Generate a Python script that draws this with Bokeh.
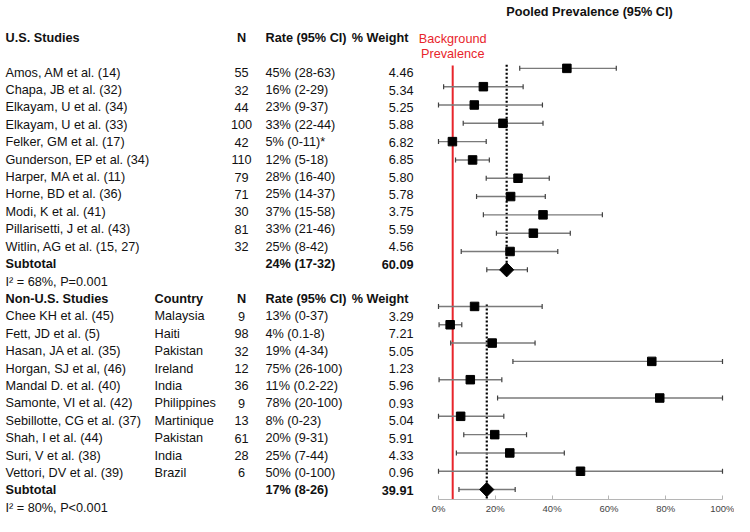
import math
from bokeh.plotting import figure
from bokeh.models import ColumnDataSource, Range1d, FixedTicker, LinearAxis
from bokeh.core.properties import value
from bokeh.embed import file_html
from bokeh.resources import INLINE

# ---------------- data ----------------
us_studies = ["Amos, AM et al. (14)", "Chapa, JB et al. (32)", "Elkayam, U et al. (34)",
              "Elkayam, U et al. (33)", "Felker, GM et al. (17)", "Gunderson, EP et al. (34)",
              "Harper, MA et al. (11)", "Horne, BD et al. (36)", "Modi, K et al. (41)",
              "Pillarisetti, J et al. (43)", "Witlin, AG et al. (15, 27)"]
us_n = [55, 32, 44, 100, 42, 110, 79, 71, 30, 81, 32]
us_rate_labels = ["45% (28-63)", "16% (2-29)", "23% (9-37)", "33% (22-44)", "5% (0-11)*",
                  "12% (5-18)", "28% (16-40)", "25% (14-37)", "37% (15-58)", "33% (21-46)",
                  "25% (8-42)"]
us_weight = [4.46, 5.34, 5.25, 5.88, 6.82, 6.85, 5.80, 5.78, 3.75, 5.59, 4.56]
# plotted point estimates and CIs (%)
us_est = [45.2, 15.8, 12.6, 22.7, 4.9, 12.0, 28.0, 25.4, 36.8, 33.4, 25.2]
us_lo = [28.6, 1.8, 0.0, 8.7, 0.0, 6.0, 16.8, 13.4, 15.8, 20.4, 8.0]
us_hi = [62.6, 29.8, 36.6, 36.8, 16.8, 17.9, 39.0, 37.6, 57.7, 46.4, 42.0]
us_sub_label = "24% (17-32)"
us_sub_weight = 60.09
us_sub_est, us_sub_lo, us_sub_hi = 24.0, 17.0, 31.3
us_het = "I\u00b2 = 68%, P=0.001"

non_studies = ["Chee KH et al. (45)", "Fett, JD et al. (5)", "Hasan, JA et al. (35)",
               "Horgan, SJ et al, (46)", "Mandal D. et al. (40)", "Samonte, VI et al. (42)",
               "Sebillotte, CG et al. (37)", "Shah, I et al. (44)", "Suri, V et al. (38)",
               "Vettori, DV et al. (39)"]
non_country = ["Malaysia", "Haiti", "Pakistan", "Ireland", "India", "Philippines",
               "Martinique", "Pakistan", "India", "Brazil"]
non_n = [9, 98, 32, 12, 36, 9, 13, 61, 28, 6]
non_rate_labels = ["13% (0-37)", "4% (0.1-8)", "19% (4-34)", "75% (26-100)", "11% (0.2-22)",
                   "78% (20-100)", "8% (0-23)", "20% (9-31)", "25% (7-44)", "50% (0-100)"]
non_weight = [3.29, 7.21, 5.05, 1.23, 5.96, 0.93, 5.04, 5.91, 4.33, 0.96]
non_est = [12.7, 4.1, 18.9, 75.1, 11.2, 77.9, 7.8, 19.8, 25.1, 50.0]
non_lo = [0.0, 0.2, 4.3, 26.2, 0.2, 20.8, 0.0, 8.9, 6.3, 0.0]
non_hi = [36.5, 8.2, 34.0, 100.0, 22.3, 100.0, 23.0, 31.0, 44.3, 100.0]
non_sub_label = "17% (8-26)"
non_sub_weight = 39.91
non_sub_est, non_sub_lo, non_sub_hi = 17.0, 7.2, 27.0
non_het = "I\u00b2 = 80%, P<0.001"

background_prevalence = 5.0
tick_values = [0, 20, 40, 60, 80, 100]
tick_labels = ["0%", "20%", "40%", "60%", "80%", "100%"]

# ---------------- styles ----------------
FONT = "Liberation Sans"
FS = "12.7px"
TXT = "#111111"
RED = "#e8252b"
GREY = "#7a7a7a"

W, H = 734, 516
BOTTOM = 16            # room for the x axis labels
FRAME_H = H - BOTTOM

# ---------------- row bookkeeping ----------------
n_us = len(us_studies)
n_non = len(non_studies)
us_head_row = -2
us_rows = list(range(n_us))
us_sub_row = n_us
us_het_row = n_us + 1
non_head_row = n_us + 2
non_rows = [non_head_row + 1 + i for i in range(n_non)]
non_sub_row = non_rows[-1] + 1
non_het_row = non_sub_row + 1

us_slots = list(range(n_us))
us_sub_slot = n_us
non_slots = [n_us + 2 + i for i in range(n_non)]
non_sub_slot = non_slots[-1] + 1

# pixel geometry of the two row grids and the percentage scale
ROW0, ROW_H = 72.3, 17.44       # table rows
SLOT0, SLOT_H = 68.0, 18.35     # forest rows
PCT0, PCT_PX = 438.0, 2.84      # x of 0% and px per percent

p = figure(width=W, height=H, x_range=Range1d(0, W),
           y_range=Range1d((FRAME_H - ROW0) / ROW_H, -ROW0 / ROW_H),
           x_axis_location=None, y_axis_location=None, toolbar_location=None,
           output_backend="svg", min_border=0, min_border_bottom=BOTTOM,
           outline_line_color=None)
p.grid.visible = False
p.extra_x_ranges = {"pct": Range1d(-PCT0 / PCT_PX, (W - PCT0) / PCT_PX)}
p.extra_y_ranges = {"forest": Range1d((FRAME_H - SLOT0) / SLOT_H, -SLOT0 / SLOT_H)}

ax = LinearAxis(x_range_name="pct")
ax.ticker = FixedTicker(ticks=tick_values)
ax.major_label_overrides = {t: l for t, l in zip(tick_values, tick_labels)}
ax.bounds = (tick_values[0], tick_values[-1])
ax.axis_line_color = "#b5b5b5"
ax.major_tick_line_color = "#b5b5b5"
ax.major_tick_in = 4
ax.major_tick_out = 0
ax.minor_tick_line_color = None
ax.major_label_standoff = 3
ax.major_label_text_font = FONT
ax.major_label_text_font_size = "9.5px"
ax.major_label_text_color = "#444444"
p.add_layout(ax, "below")


def add_text(xs, ys, texts, align="left", bold=False, color=TXT, size=FS, **kw):
    src = ColumnDataSource(dict(x=xs, y=ys, t=texts))
    p.text(x="x", y="y", text="t", source=src, text_align=align,
           text_baseline="middle", text_font=value(FONT), text_font_size=value(size),
           text_font_style="bold" if bold else "normal", text_color=color,
           level="overlay", **kw)


# ---------------- table ----------------
NAME_X, COUNTRY_X, N_X, RATE_X, W_X, WH_X = 5, 154, 241, 265, 413, 408

add_text([NAME_X, NAME_X], [us_head_row, non_head_row],
         ["U.S. Studies", "Non-U.S. Studies"], bold=True)
add_text([COUNTRY_X], [non_head_row], ["Country"], bold=True)
add_text([N_X, N_X], [us_head_row, non_head_row], ["N", "N"], align="center", bold=True)
add_text([RATE_X, RATE_X], [us_head_row, non_head_row],
         ["Rate (95% CI)", "Rate (95% CI)"], bold=True)
add_text([WH_X, WH_X], [us_head_row, non_head_row],
         ["% Weight", "% Weight"], align="right", bold=True)

add_text([NAME_X] * n_us, us_rows, us_studies)
add_text([N_X] * n_us, us_rows, [str(v) for v in us_n], align="center")
add_text([RATE_X] * n_us, us_rows, us_rate_labels)
add_text([W_X] * n_us, us_rows, [f"{w:.2f}" for w in us_weight], align="right")
add_text([NAME_X], [us_sub_row], ["Subtotal"], bold=True)
add_text([RATE_X], [us_sub_row], [us_sub_label], bold=True)
add_text([W_X], [us_sub_row], [f"{us_sub_weight:.2f}"], align="right", bold=True)
add_text([NAME_X], [us_het_row], [us_het])

add_text([NAME_X] * n_non, non_rows, non_studies)
add_text([COUNTRY_X] * n_non, non_rows, non_country)
add_text([N_X] * n_non, non_rows, [str(v) for v in non_n], align="center")
add_text([RATE_X] * n_non, non_rows, non_rate_labels)
add_text([W_X] * n_non, non_rows, [f"{w:.2f}" for w in non_weight], align="right")
add_text([NAME_X], [non_sub_row], ["Subtotal"], bold=True)
add_text([RATE_X], [non_sub_row], [non_sub_label], bold=True)
add_text([W_X], [non_sub_row], [f"{non_sub_weight:.2f}"], align="right", bold=True)
add_text([NAME_X], [non_het_row], [non_het])

# ---------------- forest plot ----------------
add_text([589], [-3.1], ["Pooled Prevalence (95% CI)"], align="center", bold=True,
         y_range_name="forest")
add_text([background_prevalence, background_prevalence], [-1.58, -0.76],
         ["Background", "Prevalence"], align="center", color=RED,
         x_range_name="pct", y_range_name="forest")

fr = dict(x_range_name="pct", y_range_name="forest")
bottom_slot = (FRAME_H - SLOT0) / SLOT_H
p.segment(x0=[background_prevalence], y0=[-0.15], x1=[background_prevalence],
          y1=[bottom_slot], line_color=RED, line_width=2, **fr)
p.segment(x0=[us_sub_est], y0=[-0.2], x1=[us_sub_est], y1=[us_sub_slot],
          line_color="black", line_width=2.2, line_dash="2 2", **fr)
p.segment(x0=[non_sub_est], y0=[non_slots[0] - 0.1], x1=[non_sub_est],
          y1=[bottom_slot], line_color="black", line_width=2.2, line_dash="2 2", **fr)

all_slots = us_slots + [us_sub_slot] + non_slots + [non_sub_slot]
all_lo = us_lo + [us_sub_lo] + non_lo + [non_sub_lo]
all_hi = us_hi + [us_sub_hi] + non_hi + [non_sub_hi]
ci = ColumnDataSource(dict(y=all_slots, lo=all_lo, hi=all_hi))
p.segment(x0="lo", y0="y", x1="hi", y1="y", source=ci, line_color=GREY,
          line_width=1.4, **fr)
p.scatter(x="lo", y="y", source=ci, marker="dash", angle=math.pi / 2, size=5,
          line_color="#404040", line_width=1.2, **fr)
p.scatter(x="hi", y="y", source=ci, marker="dash", angle=math.pi / 2, size=5,
          line_color="#404040", line_width=1.2, **fr)

pts = ColumnDataSource(dict(x=us_est + non_est, y=us_slots + non_slots))
p.scatter(x="x", y="y", source=pts, marker="square", size=8.5,
          fill_color="black", line_color="black", **fr)
dia = ColumnDataSource(dict(x=[us_sub_est, non_sub_est], y=[us_sub_slot, non_sub_slot]))
p.scatter(x="x", y="y", source=dia, marker="square", angle=math.pi / 4, size=10,
          fill_color="black", line_color="black", **fr)

open("out.html", "w").write(file_html(p, INLINE))
